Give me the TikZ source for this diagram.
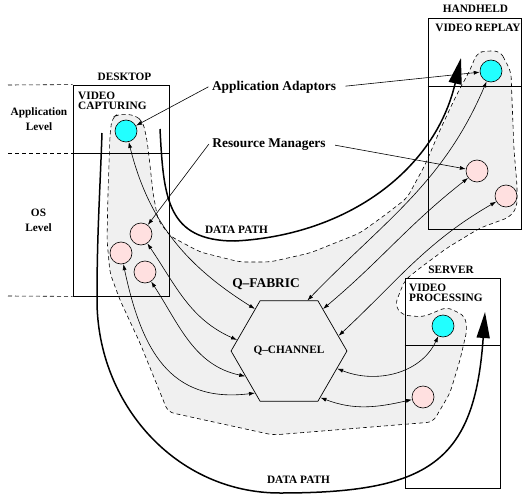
\documentclass[tikz,border=0pt]{standalone}
\usepackage{fontspec}
\setmainfont{Liberation Serif}
\usetikzlibrary{positioning,arrows.meta,shapes.geometric}
\definecolor{adaptor}{HTML}{22FFFF}
\definecolor{manager}{HTML}{FFE0E0}
\definecolor{fabric}{HTML}{F0F0F0}

\begin{document}
\begin{tikzpicture}[x=1pt,y=1pt,
  font=\fontsize{11.3}{10}\selectfont\bfseries,
  >={Latex[length=6pt,width=4pt]},
  host/.style={draw,line width=0.8pt,inner sep=0pt},
  adapt/.style={circle,draw,line width=0.6pt,fill=adaptor,minimum size=22pt,inner sep=0pt},
  rmgr/.style={circle,draw,line width=0.6pt,fill=manager,minimum size=22pt,inner sep=0pt},
  chan/.style={regular polygon,regular polygon sides=6,draw,line width=0.7pt,minimum size=96pt,inner sep=0pt},
  callout/.style={font=\fontsize{13.4}{15}\selectfont\bfseries},
  lvline/.style={line width=0.6pt,dash pattern=on 4pt off 3pt},
  region/.style={draw,line width=0.6pt,dash pattern=on 4pt off 3pt,fill=fabric,rounded corners=6pt},
  link/.style={<->,line width=0.6pt},
  ptr/.style={->,line width=0.6pt},
  datapath/.style={-{Triangle[length=26pt,width=13pt]},line width=1.5pt}
]
\useasboundingbox (0,0) rectangle (522,-495);

% Q-fabric region
\path[region] (112,-118) -- (118,-114) -- (135,-115) -- (143,-122) -- (147,-140) -- (150,-165)
  -- (153,-193) -- (158,-220) -- (170,-236) -- (200,-252) -- (240,-262) -- (270,-262)
  -- (310,-253) -- (360,-233) -- (385,-215) -- (407,-198) -- (425,-165) -- (440,-130)
  -- (455,-98) -- (470,-70) -- (477,-53) -- (485,-51) -- (500,-51) -- (505,-60) -- (511,-72)
  -- (512,-100) -- (514,-150) -- (517,-185) -- (517,-207) -- (510,-217) -- (480,-228)
  -- (447,-248) -- (420,-268) -- (405,-280) -- (400,-292) -- (395,-305) -- (402,-315)
  -- (423,-317) -- (447,-307) -- (465,-316) -- (467,-330) -- (460,-360) -- (450,-393)
  -- (433,-422) -- (273,-435) -- (168,-412) -- (140,-343) -- (120,-300) -- (110,-273)
  -- (107,-240) -- (108,-193) -- (110,-135) -- cycle;

% hosts
\node[host,minimum width=96pt,minimum height=211pt] (desk) at (121,-190.5) {};
\node[host,minimum width=93pt,minimum height=211pt] (hand) at (474.5,-123.5) {};
\node[host,minimum width=95pt,minimum height=210pt] (serv) at (452.5,-383) {};
\draw[line width=0.8pt] (desk.west |- 0,-153) -- (desk.east |- 0,-153);
\draw[line width=0.8pt] (hand.west |- 0,-86) -- (hand.east |- 0,-86);
\draw[line width=0.8pt] (serv.west |- 0,-345) -- (serv.east |- 0,-345);
\draw[lvline] (8,-85) -- (desk.north west);
\draw[lvline] (8,-153) -- (desk.west |- 0,-153);
\draw[lvline] (8,-296) -- (desk.south west);

\node[anchor=base] (desklbl) at (124.5,-81) {DESKTOP};
\node[anchor=base] (handlbl) at (475.5,-13) {HANDHELD};
\node[anchor=base] (servlbl) at (451,-273) {SERVER};
\node[anchor=base] (replay) at (478,-32) {VIDEO REPLAY};
\node[align=left,anchor=north west,inner sep=0pt] (capt) at (78,-92) {VIDEO\\CAPTURING};
\node[align=left,anchor=north west,inner sep=0pt] (proc) at (409,-284) {VIDEO\\PROCESSING};
\node[align=center,font=\fontsize{11.3}{14.5}\selectfont\bfseries] (applvl) at (39,-119) {Application\\Level};
\node[align=center,font=\fontsize{11.3}{15}\selectfont\bfseries] (oslvl) at (38.5,-220) {OS\\Level};

% adaptors and resource managers
\node[adapt] (dcap) at (126,-131) {};
\node[rmgr] (dp1) at (141,-234) {};
\node[rmgr] (dp2) at (121,-253) {};
\node[rmgr] (dp3) at (145,-272) {};
\node[adapt] (hrep) at (491,-71) {};
\node[rmgr] (hp1) at (477,-171) {};
\node[rmgr] (hp2) at (506,-196) {};
\node[adapt] (sproc) at (443,-326) {};
\node[rmgr] (sp1) at (423,-397) {};
\node[chan] (qch) at (289,-351) {Q--CHANNEL};

\node[callout,anchor=base] (aa) at (274,-90) {Application Adaptors};
\node[callout,anchor=base] (rm) at (269,-147) {Resource Managers};
\node[callout,anchor=base] (qfab) at (266,-287) {Q--FABRIC};
\node[anchor=base] (dpup) at (236.5,-233) {DATA PATH};
\node[anchor=base] (dplow) at (298.5,-483) {DATA PATH};

\draw[ptr] (aa.west) -- (dcap);
\draw[ptr,shorten <=6pt] (aa.east) -- (hrep);
\draw[ptr] (rm.west) -- (dp1);
\draw[ptr,shorten <=6pt] (rm.east) -- (hp1);

% channel links
\draw[link] (dcap) to[out=-76,in=148] (qch.129);
\draw[link] (dp1) to[out=-56,in=156] (qch.168);
\draw[link] (dp2) to[out=-78,in=187,looseness=1.2] (qch.231);
\draw[link] (dp3) to[out=-57,in=168] (qch.210);
\draw[link] (hrep) to[out=247,in=46] (qch.70);
\draw[link] (hp1) to[out=218,in=40] (qch.51);
\draw[link] (hp2) to[out=210,in=43] (qch.17);
\draw[link] (sproc) to[out=245,in=338] (qch.-20);
\draw[link] (sp1) to[out=193,in=339] (qch.-56);

% data paths
\coordinate (dpa) at (160,-129);
\coordinate (dpab) at (235,-241);
\coordinate (dph) at (461,-58);
\coordinate (dpb) at (102,-133);
\coordinate (dpbm) at (97,-300);
\coordinate (dpbb) at (280,-493);
\coordinate (dps) at (485,-312);
\draw[datapath] (dpa) to[out=-87,in=180,looseness=1.3] (dpab) to[out=3,in=257] (dph);
\draw[datapath] (dpb) to[out=-92,in=90] (dpbm) to[out=-90,in=180] (dpbb)
  to[out=0,in=266,looseness=1.4] (dps);
\end{tikzpicture}
\end{document}
